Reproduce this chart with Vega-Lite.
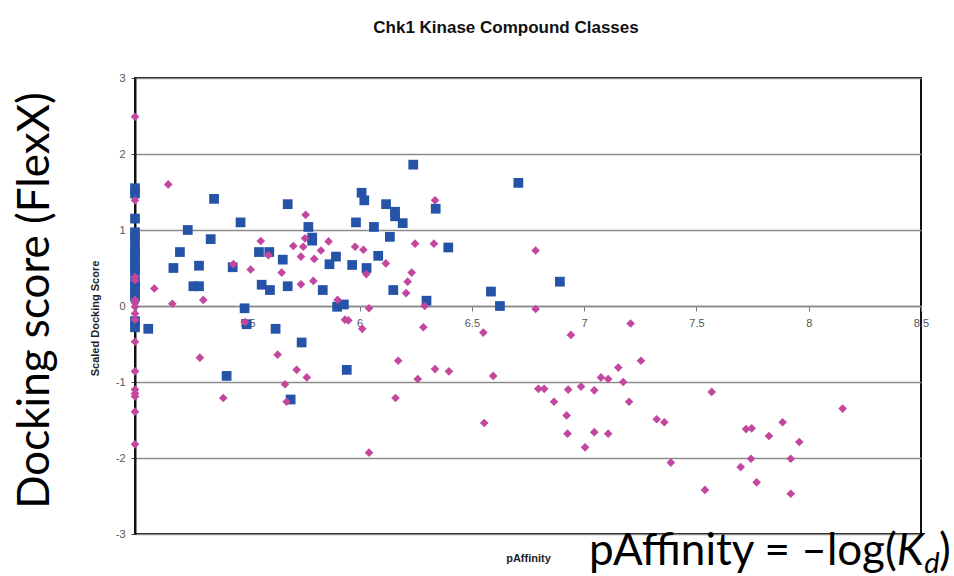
{
  "$schema": "https://vega.github.io/schema/vega-lite/v6.json",
  "autosize": {"type": "none"},
  "padding": {"left": 135, "top": 78, "right": 33, "bottom": 42},
  "width": 786,
  "height": 456,
  "background": "white",
  "title": {
    "text": "Chk1 Kinase Compound Classes",
    "font": "Liberation Sans",
    "fontSize": 17,
    "fontWeight": "bold",
    "color": "#111",
    "frame": "group",
    "anchor": "middle",
    "baseline": "alphabetic",
    "offset": 22,
    "dx": -22
  },
  "config": {
    "view": {"stroke": "#111", "strokeWidth": 2},
    "axis": {"labelFont": "Liberation Sans", "titleFont": "Liberation Sans"}
  },
  "datasets": {
    "pts": [
      {"pAffinity": 5, "score": 1.55, "cls": "A"},
      {"pAffinity": 5, "score": 1.48, "cls": "A"},
      {"pAffinity": 5, "score": 1.15, "cls": "A"},
      {"pAffinity": 5, "score": 0.97, "cls": "A"},
      {"pAffinity": 5, "score": 0.9, "cls": "A"},
      {"pAffinity": 5, "score": 0.78, "cls": "A"},
      {"pAffinity": 5, "score": 0.72, "cls": "A"},
      {"pAffinity": 5, "score": 0.65, "cls": "A"},
      {"pAffinity": 5, "score": 0.58, "cls": "A"},
      {"pAffinity": 5, "score": 0.5, "cls": "A"},
      {"pAffinity": 5, "score": 0.45, "cls": "A"},
      {"pAffinity": 5, "score": 0.32, "cls": "A"},
      {"pAffinity": 5, "score": 0.25, "cls": "A"},
      {"pAffinity": 5, "score": 0.18, "cls": "A"},
      {"pAffinity": 5, "score": 0.12, "cls": "A"},
      {"pAffinity": 5, "score": -0.2, "cls": "A"},
      {"pAffinity": 5, "score": -0.28, "cls": "A"},
      {"pAffinity": 5.059, "score": -0.3, "cls": "A"},
      {"pAffinity": 5.171, "score": 0.5, "cls": "A"},
      {"pAffinity": 5.2, "score": 0.71, "cls": "A"},
      {"pAffinity": 5.235, "score": 1.0, "cls": "A"},
      {"pAffinity": 5.26, "score": 0.26, "cls": "A"},
      {"pAffinity": 5.285, "score": 0.26, "cls": "A"},
      {"pAffinity": 5.285, "score": 0.53, "cls": "A"},
      {"pAffinity": 5.337, "score": 0.88, "cls": "A"},
      {"pAffinity": 5.352, "score": 1.41, "cls": "A"},
      {"pAffinity": 5.408, "score": -0.92, "cls": "A"},
      {"pAffinity": 5.435, "score": 0.51, "cls": "A"},
      {"pAffinity": 5.47, "score": 1.1, "cls": "A"},
      {"pAffinity": 5.488, "score": -0.03, "cls": "A"},
      {"pAffinity": 5.497, "score": -0.24, "cls": "A"},
      {"pAffinity": 5.552, "score": 0.71, "cls": "A"},
      {"pAffinity": 5.564, "score": 0.28, "cls": "A"},
      {"pAffinity": 5.598, "score": 0.71, "cls": "A"},
      {"pAffinity": 5.601, "score": 0.21, "cls": "A"},
      {"pAffinity": 5.626, "score": -0.3, "cls": "A"},
      {"pAffinity": 5.658, "score": 0.61, "cls": "A"},
      {"pAffinity": 5.68, "score": 1.34, "cls": "A"},
      {"pAffinity": 5.68, "score": 0.26, "cls": "A"},
      {"pAffinity": 5.693, "score": -1.23, "cls": "A"},
      {"pAffinity": 5.742, "score": -0.48, "cls": "A"},
      {"pAffinity": 5.772, "score": 1.04, "cls": "A"},
      {"pAffinity": 5.789, "score": 0.9, "cls": "A"},
      {"pAffinity": 5.789, "score": 0.86, "cls": "A"},
      {"pAffinity": 5.836, "score": 0.21, "cls": "A"},
      {"pAffinity": 5.866, "score": 0.55, "cls": "A"},
      {"pAffinity": 5.895, "score": 0.65, "cls": "A"},
      {"pAffinity": 5.9, "score": -0.01, "cls": "A"},
      {"pAffinity": 5.93, "score": 0.02, "cls": "A"},
      {"pAffinity": 5.943, "score": -0.84, "cls": "A"},
      {"pAffinity": 5.967, "score": 0.54, "cls": "A"},
      {"pAffinity": 5.984, "score": 1.1, "cls": "A"},
      {"pAffinity": 6.009, "score": 1.49, "cls": "A"},
      {"pAffinity": 6.021, "score": 1.39, "cls": "A"},
      {"pAffinity": 6.031, "score": 0.5, "cls": "A"},
      {"pAffinity": 6.064, "score": 1.04, "cls": "A"},
      {"pAffinity": 6.083, "score": 0.66, "cls": "A"},
      {"pAffinity": 6.118, "score": 1.34, "cls": "A"},
      {"pAffinity": 6.135, "score": 0.91, "cls": "A"},
      {"pAffinity": 6.15, "score": 0.21, "cls": "A"},
      {"pAffinity": 6.158, "score": 1.24, "cls": "A"},
      {"pAffinity": 6.158, "score": 1.18, "cls": "A"},
      {"pAffinity": 6.192, "score": 1.09, "cls": "A"},
      {"pAffinity": 6.239, "score": 1.86, "cls": "A"},
      {"pAffinity": 6.298, "score": 0.07, "cls": "A"},
      {"pAffinity": 6.339, "score": 1.28, "cls": "A"},
      {"pAffinity": 6.395, "score": 0.77, "cls": "A"},
      {"pAffinity": 6.585, "score": 0.19, "cls": "A"},
      {"pAffinity": 6.625, "score": 0.0, "cls": "A"},
      {"pAffinity": 6.707, "score": 1.62, "cls": "A"},
      {"pAffinity": 6.892, "score": 0.32, "cls": "A"},
      {"pAffinity": 5, "score": 2.49, "cls": "B"},
      {"pAffinity": 5, "score": 1.39, "cls": "B"},
      {"pAffinity": 5, "score": 0.38, "cls": "B"},
      {"pAffinity": 5, "score": 0.34, "cls": "B"},
      {"pAffinity": 5, "score": 0.08, "cls": "B"},
      {"pAffinity": 5, "score": 0.04, "cls": "B"},
      {"pAffinity": 5, "score": -0.01, "cls": "B"},
      {"pAffinity": 5, "score": -0.1, "cls": "B"},
      {"pAffinity": 5, "score": -0.18, "cls": "B"},
      {"pAffinity": 5, "score": -0.47, "cls": "B"},
      {"pAffinity": 5, "score": -0.86, "cls": "B"},
      {"pAffinity": 5, "score": -1.1, "cls": "B"},
      {"pAffinity": 5, "score": -1.15, "cls": "B"},
      {"pAffinity": 5, "score": -1.19, "cls": "B"},
      {"pAffinity": 5, "score": -1.39, "cls": "B"},
      {"pAffinity": 5, "score": -1.82, "cls": "B"},
      {"pAffinity": 5.086, "score": 0.23, "cls": "B"},
      {"pAffinity": 5.148, "score": 1.6, "cls": "B"},
      {"pAffinity": 5.166, "score": 0.03, "cls": "B"},
      {"pAffinity": 5.289, "score": -0.68, "cls": "B"},
      {"pAffinity": 5.304, "score": 0.08, "cls": "B"},
      {"pAffinity": 5.393, "score": -1.21, "cls": "B"},
      {"pAffinity": 5.438, "score": 0.55, "cls": "B"},
      {"pAffinity": 5.49, "score": -0.21, "cls": "B"},
      {"pAffinity": 5.515, "score": 0.48, "cls": "B"},
      {"pAffinity": 5.56, "score": 0.855, "cls": "B"},
      {"pAffinity": 5.594, "score": 0.67, "cls": "B"},
      {"pAffinity": 5.635, "score": -0.64, "cls": "B"},
      {"pAffinity": 5.653, "score": 0.44, "cls": "B"},
      {"pAffinity": 5.668, "score": -1.03, "cls": "B"},
      {"pAffinity": 5.675, "score": -1.26, "cls": "B"},
      {"pAffinity": 5.705, "score": 0.79, "cls": "B"},
      {"pAffinity": 5.72, "score": -0.84, "cls": "B"},
      {"pAffinity": 5.739, "score": 0.65, "cls": "B"},
      {"pAffinity": 5.739, "score": 0.285, "cls": "B"},
      {"pAffinity": 5.749, "score": 0.78, "cls": "B"},
      {"pAffinity": 5.757, "score": 0.89, "cls": "B"},
      {"pAffinity": 5.76, "score": 1.2, "cls": "B"},
      {"pAffinity": 5.765, "score": -0.94, "cls": "B"},
      {"pAffinity": 5.794, "score": 0.33, "cls": "B"},
      {"pAffinity": 5.798, "score": 0.62, "cls": "B"},
      {"pAffinity": 5.828, "score": 0.73, "cls": "B"},
      {"pAffinity": 5.862, "score": 0.85, "cls": "B"},
      {"pAffinity": 5.902, "score": 0.08, "cls": "B"},
      {"pAffinity": 5.935, "score": -0.18, "cls": "B"},
      {"pAffinity": 5.95, "score": -0.19, "cls": "B"},
      {"pAffinity": 5.98, "score": 0.78, "cls": "B"},
      {"pAffinity": 6.012, "score": -0.3, "cls": "B"},
      {"pAffinity": 6.017, "score": 0.74, "cls": "B"},
      {"pAffinity": 6.03, "score": 0.42, "cls": "B"},
      {"pAffinity": 6.042, "score": -0.03, "cls": "B"},
      {"pAffinity": 6.042, "score": -1.93, "cls": "B"},
      {"pAffinity": 6.117, "score": 0.56, "cls": "B"},
      {"pAffinity": 6.16, "score": -1.21, "cls": "B"},
      {"pAffinity": 6.172, "score": -0.72, "cls": "B"},
      {"pAffinity": 6.207, "score": 0.17, "cls": "B"},
      {"pAffinity": 6.214, "score": 0.32, "cls": "B"},
      {"pAffinity": 6.232, "score": 0.44, "cls": "B"},
      {"pAffinity": 6.247, "score": 0.82, "cls": "B"},
      {"pAffinity": 6.259, "score": -0.96, "cls": "B"},
      {"pAffinity": 6.284, "score": -0.28, "cls": "B"},
      {"pAffinity": 6.29, "score": 0.0, "cls": "B"},
      {"pAffinity": 6.331, "score": 0.82, "cls": "B"},
      {"pAffinity": 6.336, "score": 1.39, "cls": "B"},
      {"pAffinity": 6.336, "score": -0.83, "cls": "B"},
      {"pAffinity": 6.398, "score": -0.86, "cls": "B"},
      {"pAffinity": 6.551, "score": -0.35, "cls": "B"},
      {"pAffinity": 6.555, "score": -1.54, "cls": "B"},
      {"pAffinity": 6.595, "score": -0.92, "cls": "B"},
      {"pAffinity": 6.784, "score": 0.73, "cls": "B"},
      {"pAffinity": 6.784, "score": -0.04, "cls": "B"},
      {"pAffinity": 6.796, "score": -1.09, "cls": "B"},
      {"pAffinity": 6.822, "score": -1.09, "cls": "B"},
      {"pAffinity": 6.866, "score": -1.26, "cls": "B"},
      {"pAffinity": 6.922, "score": -1.44, "cls": "B"},
      {"pAffinity": 6.926, "score": -1.68, "cls": "B"},
      {"pAffinity": 6.929, "score": -1.1, "cls": "B"},
      {"pAffinity": 6.941, "score": -0.38, "cls": "B"},
      {"pAffinity": 6.986, "score": -1.06, "cls": "B"},
      {"pAffinity": 7.004, "score": -1.86, "cls": "B"},
      {"pAffinity": 7.045, "score": -1.11, "cls": "B"},
      {"pAffinity": 7.045, "score": -1.66, "cls": "B"},
      {"pAffinity": 7.075, "score": -0.94, "cls": "B"},
      {"pAffinity": 7.107, "score": -0.96, "cls": "B"},
      {"pAffinity": 7.107, "score": -1.68, "cls": "B"},
      {"pAffinity": 7.152, "score": -0.81, "cls": "B"},
      {"pAffinity": 7.174, "score": -1.0, "cls": "B"},
      {"pAffinity": 7.2, "score": -1.26, "cls": "B"},
      {"pAffinity": 7.207, "score": -0.23, "cls": "B"},
      {"pAffinity": 7.253, "score": -0.72, "cls": "B"},
      {"pAffinity": 7.323, "score": -1.49, "cls": "B"},
      {"pAffinity": 7.357, "score": -1.53, "cls": "B"},
      {"pAffinity": 7.386, "score": -2.06, "cls": "B"},
      {"pAffinity": 7.538, "score": -2.42, "cls": "B"},
      {"pAffinity": 7.568, "score": -1.13, "cls": "B"},
      {"pAffinity": 7.697, "score": -2.12, "cls": "B"},
      {"pAffinity": 7.721, "score": -1.62, "cls": "B"},
      {"pAffinity": 7.743, "score": -2.01, "cls": "B"},
      {"pAffinity": 7.746, "score": -1.61, "cls": "B"},
      {"pAffinity": 7.768, "score": -2.32, "cls": "B"},
      {"pAffinity": 7.823, "score": -1.71, "cls": "B"},
      {"pAffinity": 7.884, "score": -1.53, "cls": "B"},
      {"pAffinity": 7.92, "score": -2.01, "cls": "B"},
      {"pAffinity": 7.92, "score": -2.47, "cls": "B"},
      {"pAffinity": 7.958, "score": -1.79, "cls": "B"},
      {"pAffinity": 8.151, "score": -1.35, "cls": "B"}
    ]
  },
  "layer": [
    {
      "mark": {"type": "rule", "opacity": 0},
      "encoding": {
        "y": {
          "datum": 0,
          "type": "quantitative",
          "scale": {"domain": [-3, 3], "nice": false, "zero": false},
          "axis": {
            "orient": "left",
            "title": "Docking score (FlexX)",
            "titleFont": "Lato",
            "titleFontSize": 44,
            "titleFontWeight": "normal",
            "titleColor": "#000",
            "titleAngle": 270,
            "titleAlign": "center",
            "titleBaseline": "alphabetic",
            "titleX": -87,
            "titleY": 222,
            "labels": false,
            "ticks": false,
            "domain": false,
            "grid": false
          }
        }
      }
    },
    {
      "data": {"name": "pts"},
      "mark": {"type": "point", "filled": true, "opacity": 1, "strokeWidth": 0, "clip": false},
      "encoding": {
        "x": {
          "field": "pAffinity",
          "type": "quantitative",
          "scale": {"domain": [5, 8.5], "nice": false, "zero": false},
          "axis": {
            "orient": "bottom",
            "offset": -228,
            "values": [5, 5.5, 6, 6.5, 7, 7.5, 8, 8.5],
            "format": "~g",
            "grid": false,
            "domainColor": "#8a8a8a",
            "domainWidth": 1.5,
            "tickColor": "#777",
            "tickSize": 5,
            "tickWidth": 1,
            "labelFontSize": 11,
            "labelColor": "#555",
            "labelPadding": 6,
            "labelFlush": false,
            "labelOverlap": false,
            "title": "pAffinity",
            "titleFontSize": 11,
            "titleFontWeight": "bold",
            "titleColor": "#222",
            "titleBaseline": "alphabetic",
            "titleX": 393,
            "titleY": 255
          }
        },
        "y": {
          "field": "score",
          "type": "quantitative",
          "scale": {"domain": [-3, 3], "nice": false, "zero": false},
          "axis": {
            "orient": "left",
            "values": [-3, -2, -1, 0, 1, 2, 3],
            "labelExpr": "'' + datum.value",
            "grid": true,
            "gridColor": "#8c8c8c",
            "gridWidth": 1.5,
            "domainColor": "#111",
            "domainWidth": 2,
            "tickColor": "#444",
            "tickSize": 4,
            "labelFontSize": 11,
            "labelColor": "#555",
            "labelPadding": 6,
            "title": "Scaled Docking Score",
            "titleFontSize": 11,
            "titleFontWeight": "bold",
            "titleColor": "#222",
            "titleAngle": 270,
            "titleAlign": "center",
            "titleBaseline": "middle",
            "titleX": -40,
            "titleY": 240
          }
        },
        "color": {
          "field": "cls",
          "type": "nominal",
          "scale": {"domain": ["A", "B"], "range": ["#2453a8", "#c3479e"]},
          "legend": null
        },
        "shape": {
          "field": "cls",
          "type": "nominal",
          "scale": {"domain": ["A", "B"], "range": ["square", "diamond"]},
          "legend": null
        },
        "size": {
          "field": "cls",
          "type": "nominal",
          "scale": {"domain": ["A", "B"], "range": [95, 75]},
          "legend": null
        }
      }
    },
    {
      "data": {"values": [{"label": "pAffinity = –log("}]},
      "mark": {"type": "text", "font": "Lato", "fontSize": 44, "align": "right", "baseline": "alphabetic", "color": "#000", "clip": false},
      "encoding": {
        "text": {"field": "label", "type": "nominal"},
        "x": {"datum": 8.392, "type": "quantitative", "axis": null},
        "y": {"datum": -3.408, "type": "quantitative", "axis": null}
      }
    },
    {
      "data": {"values": [{"label": "K"}]},
      "mark": {"type": "text", "font": "Lato", "fontSize": 44, "fontStyle": "italic", "align": "left", "baseline": "alphabetic", "color": "#000", "clip": false},
      "encoding": {
        "text": {"field": "label", "type": "nominal"},
        "x": {"datum": 8.392, "type": "quantitative", "axis": null},
        "y": {"datum": -3.408, "type": "quantitative", "axis": null}
      }
    },
    {
      "data": {"values": [{"label": "d"}]},
      "mark": {"type": "text", "font": "Lato", "fontSize": 29, "fontStyle": "italic", "align": "left", "baseline": "alphabetic", "color": "#000", "clip": false},
      "encoding": {
        "text": {"field": "label", "type": "nominal"},
        "x": {"datum": 8.515, "type": "quantitative", "axis": null},
        "y": {"datum": -3.513, "type": "quantitative", "axis": null}
      }
    },
    {
      "data": {"values": [{"label": ")"}]},
      "mark": {"type": "text", "font": "Lato", "fontSize": 44, "align": "left", "baseline": "alphabetic", "color": "#000", "clip": false},
      "encoding": {
        "text": {"field": "label", "type": "nominal"},
        "x": {"datum": 8.58, "type": "quantitative", "axis": null},
        "y": {"datum": -3.408, "type": "quantitative", "axis": null}
      }
    }
  ],
  "resolve": {"axis": {"x": "independent", "y": "independent"}}
}
